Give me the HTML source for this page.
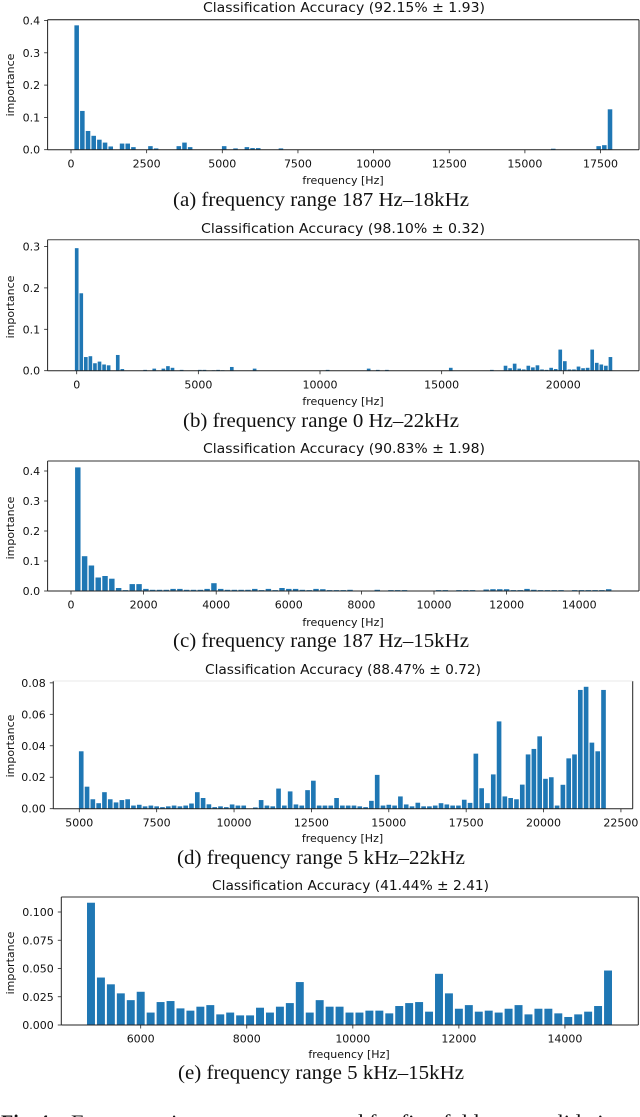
<!DOCTYPE html>
<html lang="en">
<head>
<meta charset="utf-8">
<title>Frequency importance charts</title>
<style>
html,body{margin:0;padding:0;background:#fff;width:640px;height:1117px;overflow:hidden}
svg{display:block;position:absolute;left:0;top:0;filter:blur(.3px)}
.tick{font-family:"DejaVu Sans",sans-serif;font-size:11px;fill:#111}
.title{font-family:"DejaVu Sans",sans-serif;font-size:13px;fill:#111}
.cap{font-family:"Liberation Serif",serif;font-size:20px;fill:#111}
</style>
</head>
<body>
<svg id="fig" width="640" height="1117" viewBox="0 0 640 1117" xmlns="http://www.w3.org/2000/svg"></svg>
<script>
/* Data: frequency-bin numbers (bin width 187.5 Hz) and importance values */
const aBins = [1,2,3,4,5,6,7,9,10,11,14,15,19,20,21,27,29,31,32,33,37,85,93,94,95];
const aValues = [.385,.12,.058,.043,.031,.022,.01,.019,.019,.008,.011,.004,.011,.022,.008,.011,.004,.008,.005,.005,.004,.003,.011,.014,.125];
const aXTicks = [0,2500,5000,7500,10000,12500,15000,17500];
const aYTicks = ["0.0","0.1","0.2","0.3","0.4"];

const bBins = [0,1,2,3,4,5,6,7,9,10,15,17,19,20,21,23,27,28,30,31,32,34,39,55,64,66,68,82,91,94,95,96,97,98,99,100,101,102,103,104,105,106,107,108,109,110,111,112,113,114,115,116,117];
const bValues = [.296,.187,.033,.035,.018,.022,.015,.013,.038,.004,.002,.005,.005,.011,.007,.002,.002,.002,.001,.002,.001,.009,.005,.002,.005,.002,.002,.007,.002,.012,.006,.017,.005,.003,.012,.008,.013,.003,.002,.007,.004,.051,.023,.003,.003,.01,.006,.007,.051,.019,.015,.012,.033];
const bXTicks = [0,5000,10000,15000,20000];
const bYTicks = ["0.0","0.1","0.2","0.3"];

const cValues = [.412,.116,.085,.045,.05,.041,.01,.003,.023,.023,.007,.004,.004,.004,.007,.007,.004,.004,.004,.007,.026,.007,.004,.004,.004,.004,.007,.003,.007,.003,.01,.007,.007,.004,.003,.007,
.006,.003,.003,.003,.004,0,0,0,.004,0,.003,.003,.003,0,0,0,0,.003,.003,.001,.003,.003,.003,0,.005,.006,.006,.006,.003,.003,.007,.004,.003,.003,.003,.003,.001,.003,.003,.003,.003,.003,.006];
const cXTicks = [0,2000,4000,6000,8000,10000,12000,14000];
const cYTicks = ["0.0","0.1","0.2","0.3","0.4"];

const dValues = [.0365,.014,.006,.0035,.0105,.006,.004,.0055,.006,.002,.0025,.0015,.002,.0015,.001,.0015,.002,.0015,.002,.0033,.0105,.0068,.0028,.001,.0015,.001,.0027,.002,.002,0,.0008,.0055,.002,.0015,.0128,.002,.011,.0027,.002,.0118,.0178,
.002,.002,.002,.0068,.002,.002,.002,.0015,.001,.005,.0215,.002,.0025,.002,.0078,.0027,.0015,.0038,.0015,.0015,.002,.0035,.0027,.002,.002,.0057,.0037,.035,.013,.0035,.0218,.0555,.0078,.0068,.006,.0153,.0345,.038,.046,.019,.02,.002,.0152,.032,.0345,.0755,.0775,.042,.0365,.0755];
const dXTicks = [5000,7500,10000,12500,15000,17500,20000,22500];
const dYTicks = ["0.00","0.02","0.04","0.06","0.08"];

const eValues = [.1082,.042,.036,.028,.022,.0294,.011,.0203,.0212,.0147,.0127,.0162,.0176,.0094,.011,.0085,.0085,.0153,.011,.0162,.0194,.038,.011,.022,
.0162,.0162,.011,.011,.0127,.0127,.0103,.0168,.0194,.0203,.0118,.0453,.028,.0144,.0176,.0118,.0127,.011,.0144,.0176,.0094,.0144,.0144,.0103,.0071,.0094,.0118,.0168,.0482];
const eXTicks = [6000,8000,10000,12000,14000];
const eYTicks = ["0.000","0.025","0.050","0.075","0.100"];

const binWidthHz = 187.5;
const barWidthHz = 150;

function consecutive(first, n){ const r = []; for (let i = 0; i < n; i++) r.push(first + i); return r; }

const charts = [
 {id:"a", bins:aBins, values:aValues, xTicks:aXTicks, yTicks:aYTicks,
  title:"Classification Accuracy (92.15% ± 1.93)", titleBox:[203,282,12],
  caption:"(a) frequency range 187 Hz–18kHz", capBox:[173,296,206],
  box:[47.6,639,19.7,149.7], xRef:[0,71,0.03026], yRef:[149.7,323], yLabelY:85, xLabelX:343, xLabelY:184, topColor:"#111"},
 {id:"b", bins:bBins, values:bValues, xTicks:bXTicks, yTicks:bYTicks,
  title:"Classification Accuracy (98.10% ± 0.32)", titleBox:[201,284,233],
  caption:"(b) frequency range 0 Hz–22kHz", capBox:[183,276,427],
  box:[47.6,639,239.7,370.7], xRef:[0,76.7,0.02433], yRef:[370.7,414], yLabelY:307, xLabelX:343, xLabelY:405, topColor:"#444"},
 {id:"c", bins:consecutive(1,cValues.length), values:cValues, xTicks:cXTicks, yTicks:cYTicks,
  title:"Classification Accuracy (90.83% ± 1.98)", titleBox:[203,282,453],
  caption:"(c) frequency range 187 Hz–15kHz", capBox:[173,296,647],
  box:[47.6,639,461,591], xRef:[0,71,0.0363], yRef:[591,300], yLabelY:528, xLabelX:343, xLabelY:626, topColor:"#333"},
 {id:"d", bins:consecutive(27,dValues.length), values:dValues, xTicks:dXTicks, yTicks:dYTicks,
  title:"Classification Accuracy (88.47% ± 0.72)", titleBox:[205,276,674],
  caption:"(d) frequency range 5 kHz–22kHz", capBox:[177,288,864],
  box:[53.3,632.7,681,808.7], xRef:[5000,79.3,0.03095], yRef:[808.7,1573], yLabelY:746, xLabelX:342.5, xLabelY:842, topColor:"#e8e8e8"},
 {id:"e", bins:consecutive(27,eValues.length), values:eValues, xTicks:eXTicks, yTicks:eYTicks,
  title:"Classification Accuracy (41.44% ± 2.41)", titleBox:[212,277,890],
  caption:"(e) frequency range 5 kHz–15kHz", capBox:[178,286,1079],
  box:[61.3,638.3,897,1025], xRef:[6000,140.7,0.05303], yRef:[1025,1130], yLabelY:963, xLabelX:349, xLabelY:1058, topColor:"#333"}
];

const NS = "http://www.w3.org/2000/svg";
const fig = document.getElementById("fig");

function mk(tag, attrs, parent, text){
  const el = document.createElementNS(NS, tag);
  for (const k in attrs) el.setAttribute(k, attrs[k]);
  if (text !== undefined) el.textContent = text;
  parent.appendChild(el);
  return el;
}

function drawChart(c){
  const [L,R,T,B] = c.box;
  const xScale = f => c.xRef[1] + (f - c.xRef[0]) * c.xRef[2];
  const yScale = v => c.yRef[0] - v * c.yRef[1];

  const g = mk("g", {}, fig);
  
  

  const title = mk("text", {class:"title", x:c.titleBox[0], y:c.titleBox[2], textLength:c.titleBox[1], lengthAdjust:"spacingAndGlyphs"}, g, c.title);
  
  

  const bars = mk("g", {fill:"#1f77b4"}, g);
  
  
  c.values.forEach((v, i) => {
    const f = c.bins[i] * binWidthHz;
    const x0 = xScale(f - barWidthHz / 2), x1 = xScale(f + barWidthHz / 2);
    const y = yScale(v);
    const r = mk("rect", {x:x0.toFixed(2), y:y.toFixed(2), width:(x1 - x0).toFixed(2), height:Math.max(0, c.yRef[0] - y).toFixed(2)}, bars);
    
    
  });

  const spines = [
    ["spine-left",L,T,L,B,"#222"],
    ["spine-bottom",L,B,R,B,"#222"],
    ["spine-right",R,T,R,B,"#222"],
    ["spine-top",L,T,R,T,c.topColor]
  ];
  spines.forEach(s => {
    const ln = mk("line", {x1:s[1], y1:s[2], x2:s[3], y2:s[4], stroke:s[5], "stroke-width":1}, g);
    
    
  });

  c.xTicks.forEach(t => {
    const x = xScale(t);
    const ln = mk("line", {x1:x, y1:B, x2:x, y2:B + 3.5, stroke:"#222", "stroke-width":.8}, g);
    
    
    const tx = mk("text", {class:"tick", x:x, y:B + 17.6, "text-anchor":"middle"}, g, String(t));
    
    
  });

  c.yTicks.forEach(t => {
    const y = yScale(parseFloat(t));
    const ln = mk("line", {x1:L - 3.5, y1:y, x2:L, y2:y, stroke:"#222", "stroke-width":.8}, g);
    
    
    const tx = mk("text", {class:"tick", x:L - 7.5, y:y + 4, "text-anchor":"end"}, g, t);
    
    
  });

  const yl = mk("text", {class:"tick", x:0, y:0, "text-anchor":"middle", transform:"translate(14 " + c.yLabelY + ") rotate(-90)"}, g, "importance");
  
  

  const xl = mk("text", {class:"tick", x:c.xLabelX, y:c.xLabelY, "text-anchor":"middle"}, g, "frequency [Hz]");
  
  

  const cap = mk("text", {class:"cap", x:c.capBox[0], y:c.capBox[2], textLength:c.capBox[1], lengthAdjust:"spacingAndGlyphs"}, g, c.caption);
  
  
}

charts.forEach(drawChart);

const figCap = mk("text", {class:"cap", x:1, y:1128.5, "font-weight":"bold"}, fig, "Fig. 4:");


const figCap2 = mk("text", {class:"cap", x:71, y:1128.5, textLength:555, lengthAdjust:"spacingAndGlyphs"}, fig, "Frequency importance measured for five-fold cross validation");


</script>
</body>
</html>
